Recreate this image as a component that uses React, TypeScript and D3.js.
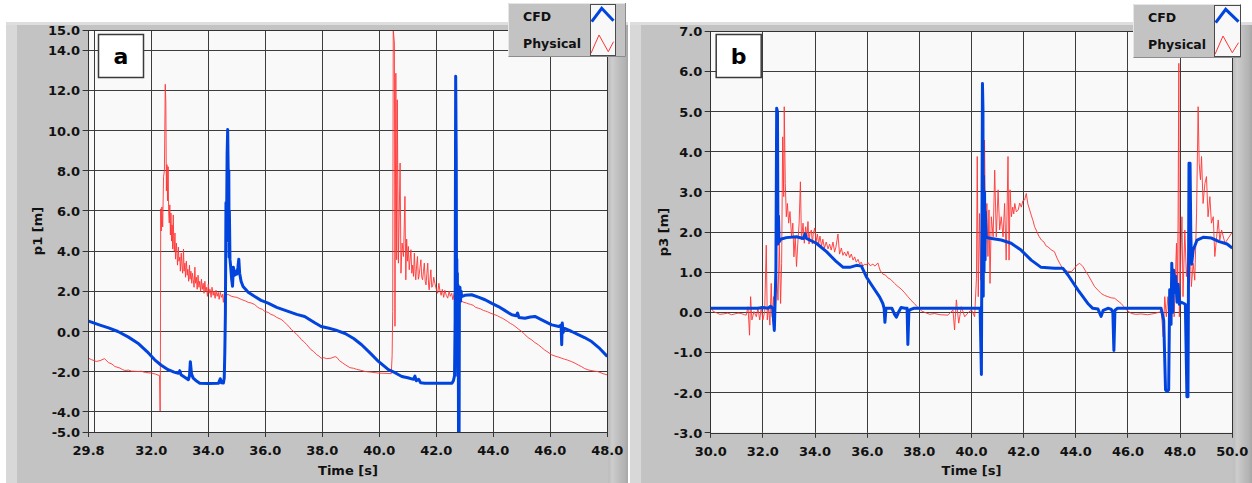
import React from 'react';
import * as d3 from 'd3';

type Pt = [number, number];

const SERIES_NAMES = ['CFD', 'Physical'];
const X_TITLE = 'Time [s]';

// ---- panel a: pressure head p1 ----
const xTicksA = [29.8, 32, 34, 36, 38, 40, 42, 44, 46, 48];
const xGridA = [30, 32, 34, 36, 38, 40, 42, 44, 46];
const yTicksA = [15, 14, 12, 10, 8, 6, 4, 2, 0, -2, -4, -5];
const yGridA = [14, 12, 10, 8, 6, 4, 2, 0, -2, -4];

const cfdA: Pt[] = [
  [29.8, 0.52], [30.2, 0.32], [30.5, 0.18], [30.83, 0.0], [31.2, -0.28], [31.53, -0.58], [31.85, -1.0],
  [32.12, -1.41], [32.35, -1.68], [32.59, -1.9], [32.8, -2.02], [32.95, -2.08], [33.0, -1.95], [33.04, -2.15],
  [33.2, -2.3], [33.3, -2.4], [33.34, -2.2], [33.37, -1.5], [33.41, -2.1], [33.47, -2.32], [33.6, -2.48],
  [33.7, -2.57], [34.0, -2.59], [34.36, -2.57], [34.42, -2.35], [34.46, -2.55], [34.53, -2.56], [34.56, -2.3],
  [34.58, -1.0], [34.6, 0.9], [34.62, 6.4], [34.64, 5.0], [34.66, 8.8], [34.68, 10.05], [34.7, 7.7],
  [34.71, 4.5], [34.72, 8.0], [34.73, 3.7], [34.74, 6.0], [34.76, 3.6], [34.78, 3.3], [34.82, 2.6],
  [34.85, 2.25], [34.88, 3.2], [34.92, 2.8], [34.96, 3.0], [35.0, 2.85], [35.04, 3.2], [35.07, 3.6],
  [35.1, 2.9], [35.15, 2.5], [35.22, 2.24], [35.4, 1.95], [35.63, 1.74], [35.85, 1.55], [36.1, 1.41],
  [36.4, 1.2], [36.8, 1.0], [37.1, 0.85], [37.38, 0.75], [37.55, 0.6], [37.75, 0.42], [37.96, 0.25],
  [38.2, 0.17], [38.45, 0.08], [38.8, -0.1], [39.1, -0.35], [39.38, -0.66], [39.7, -1.1], [39.97, -1.49],
  [40.32, -1.9], [40.55, -2.05], [40.79, -2.24], [41.0, -2.3], [41.2, -2.38], [41.25, -2.22], [41.3, -2.45],
  [41.38, -2.38], [41.45, -2.55], [41.6, -2.57], [42.0, -2.57], [42.55, -2.57], [42.6, -2.45], [42.64, -2.2],
  [42.66, 0.5], [42.68, 12.7], [42.7, 8.5], [42.71, 2.0], [42.72, 3.6], [42.73, -1.5], [42.74, 2.9],
  [42.75, -2.2], [42.76, 2.3], [42.77, 1.0], [42.78, -5.2], [42.8, -5.2], [42.81, 1.4], [42.83, 2.2],
  [42.85, 1.5], [42.87, 2.0], [42.89, 1.74], [43.0, 1.8], [43.24, 1.83], [43.5, 1.7], [43.71, 1.58],
  [43.95, 1.4], [44.18, 1.24], [44.4, 1.05], [44.65, 0.83], [44.8, 0.78], [44.85, 0.92], [44.9, 0.7],
  [45.11, 0.66], [45.3, 0.72], [45.46, 0.75], [45.7, 0.58], [46.05, 0.33], [46.3, 0.25], [46.38, 0.32],
  [46.4, -0.66], [46.42, 0.42], [46.45, -0.05], [46.5, 0.15], [46.75, 0.0], [46.98, -0.16], [47.2, -0.3],
  [47.45, -0.5], [47.7, -0.8], [48.0, -1.24],
];

const physA: Pt[] = [
  [29.8, -1.33], [29.9, -1.4], [30.07, -1.49], [30.2, -1.45], [30.36, -1.35], [30.5, -1.55], [30.62, -1.62],
  [30.72, -1.74], [30.9, -1.82], [31.0, -1.9], [31.07, -1.94], [31.2, -1.92], [31.3, -1.97], [31.53, -1.99],
  [31.65, -1.98], [31.8, -2.04], [32.0, -2.07], [32.15, -2.12], [32.29, -2.2], [32.31, -3.95], [32.32, -1.5],
  [32.33, 6.1], [32.35, 5.0], [32.37, 6.2], [32.4, 5.2], [32.43, 7.7], [32.46, 8.0], [32.49, 12.3],
  [32.51, 11.4], [32.53, 7.0], [32.55, 8.3], [32.57, 6.5], [32.59, 8.2], [32.61, 5.9], [32.63, 5.4],
  [32.65, 6.3], [32.67, 4.8], [32.69, 5.9], [32.71, 4.5], [32.73, 5.3], [32.75, 4.1], [32.77, 5.8],
  [32.79, 4.3], [32.81, 4.0], [32.83, 4.9], [32.85, 3.6], [32.88, 4.4], [32.9, 3.9], [32.92, 3.3],
  [32.95, 4.2], [32.97, 3.5], [33.0, 3.7], [33.02, 3.0], [33.05, 3.9], [33.08, 3.2], [33.1, 2.9],
  [33.13, 4.1], [33.15, 3.0], [33.18, 3.4], [33.2, 2.7], [33.23, 3.5], [33.26, 2.8], [33.28, 3.1],
  [33.31, 2.5], [33.34, 3.3], [33.36, 2.6], [33.39, 3.0], [33.42, 2.4], [33.44, 2.9], [33.47, 2.6],
  [33.5, 2.2], [33.53, 3.2], [33.55, 2.4], [33.58, 2.7], [33.61, 2.1], [33.64, 2.8], [33.67, 2.2],
  [33.7, 2.5], [33.73, 2.0], [33.76, 2.6], [33.79, 2.1], [33.82, 2.4], [33.85, 1.9], [33.88, 2.5],
  [33.91, 2.0], [33.94, 2.2], [33.97, 1.75], [34.0, 2.35], [34.03, 1.9], [34.06, 2.1], [34.1, 1.7],
  [34.13, 2.2], [34.17, 1.8], [34.2, 2.0], [34.24, 1.65], [34.27, 2.05], [34.31, 1.75], [34.35, 1.95],
  [34.38, 1.6], [34.42, 1.95], [34.46, 1.7], [34.5, 1.85], [34.53, 1.45], [34.56, 1.9], [34.6, 1.82],
  [34.7, 1.84], [34.8, 1.76], [34.9, 1.72], [35.0, 1.7], [35.17, 1.59], [35.3, 1.52], [35.4, 1.45],
  [35.5, 1.42], [35.63, 1.34], [35.72, 1.22], [35.8, 1.15], [35.9, 1.1], [35.98, 1.0], [36.1, 0.95],
  [36.2, 0.85], [36.3, 0.8], [36.4, 0.7], [36.56, 0.6], [36.65, 0.5], [36.75, 0.35], [36.83, 0.25],
  [36.91, 0.1], [37.0, 0.0], [37.1, -0.15], [37.18, -0.25], [37.26, -0.4], [37.35, -0.5], [37.45, -0.65],
  [37.6, -0.9], [37.7, -1.0], [37.8, -1.15], [37.88, -1.22], [37.96, -1.33], [38.05, -1.3], [38.15, -1.35],
  [38.3, -1.33], [38.45, -1.25], [38.52, -1.3], [38.6, -1.45], [38.7, -1.55], [38.8, -1.65], [38.97, -1.8],
  [39.1, -1.83], [39.2, -1.88], [39.35, -1.93], [39.5, -1.99], [39.7, -2.02], [39.97, -2.07], [40.2, -2.08],
  [40.42, -2.1], [40.45, -1.2], [40.47, 1.0], [40.49, 15.0], [40.53, 14.35], [40.55, 0.26], [40.58, 12.85],
  [40.61, 3.57], [40.63, 11.53], [40.67, 3.4], [40.73, 8.38], [40.76, 2.9], [40.8, 4.4], [40.85, 3.73],
  [40.9, 6.72], [40.93, 2.57], [40.96, 4.6], [40.99, 3.5], [41.02, 4.23], [41.05, 3.07], [41.08, 3.6],
  [41.11, 4.07], [41.14, 2.9], [41.17, 3.3], [41.2, 2.74], [41.23, 3.9], [41.26, 2.9], [41.28, 2.57],
  [41.31, 3.3], [41.34, 3.73], [41.37, 2.6], [41.4, 2.82], [41.43, 3.2], [41.46, 3.57], [41.49, 2.7],
  [41.52, 2.57], [41.55, 3.0], [41.58, 3.4], [41.61, 2.5], [41.64, 2.32], [41.67, 2.9], [41.7, 3.4],
  [41.73, 2.3], [41.75, 2.07], [41.78, 2.6], [41.81, 3.07], [41.84, 2.2], [41.87, 2.24], [41.91, 2.7],
  [41.95, 2.4], [42.0, 2.1], [42.05, 1.9], [42.09, 2.4], [42.13, 2.0], [42.17, 1.8], [42.21, 2.1],
  [42.26, 1.7], [42.3, 2.05], [42.35, 1.8], [42.4, 1.66], [42.45, 2.0], [42.49, 1.75], [42.54, 1.9],
  [42.58, 1.58], [42.63, 1.9], [42.68, 1.7], [42.73, 1.95], [42.77, 1.5], [42.83, 1.6], [42.89, 1.5],
  [42.97, 1.45], [43.05, 1.42], [43.12, 1.38], [43.2, 1.35], [43.3, 1.3], [43.38, 1.2], [43.47, 1.16],
  [43.56, 1.12], [43.65, 1.05], [43.72, 1.02], [43.8, 0.98], [43.92, 0.9], [44.06, 0.83], [44.15, 0.78],
  [44.25, 0.7], [44.33, 0.65], [44.41, 0.58], [44.5, 0.5], [44.6, 0.4], [44.68, 0.34], [44.76, 0.26],
  [44.9, 0.1], [45.0, 0.0], [45.11, -0.16], [45.22, -0.3], [45.35, -0.42], [45.46, -0.55], [45.58, -0.66],
  [45.7, -0.8], [45.8, -0.92], [45.92, -1.03], [46.05, -1.16], [46.2, -1.24], [46.3, -1.28], [46.4, -1.33],
  [46.5, -1.38], [46.6, -1.42], [46.75, -1.5], [46.87, -1.58], [47.0, -1.68], [47.1, -1.75], [47.2, -1.84],
  [47.33, -1.91], [47.5, -1.96], [47.68, -2.0], [47.85, -2.1], [48.0, -2.16],
];

// ---- panel b: pressure head p3 ----
const xTicksB = [30, 32, 34, 36, 38, 40, 42, 44, 46, 48, 50];
const xGridB = [32, 34, 36, 38, 40, 42, 44, 46, 48];
const yTicksB = [7, 6, 5, 4, 3, 2, 1, 0, -1, -2, -3];
const yGridB = [6, 5, 4, 3, 2, 1, 0, -1, -2];

const cfdB: Pt[] = [
  [30.0, 0.1], [31.0, 0.1], [31.8, 0.1], [32.0, 0.12], [32.2, 0.1], [32.3, 0.15], [32.38, 0.1],
  [32.41, -0.2], [32.44, -0.45], [32.47, 0.3], [32.5, 1.05], [32.53, 5.08], [32.56, 5.0], [32.58, 1.7],
  [32.6, 2.4], [32.62, 1.75], [32.68, 1.82], [32.9, 1.86], [33.29, 1.88], [33.55, 1.84], [33.62, 1.95],
  [33.67, 1.84], [34.05, 1.72], [34.44, 1.51], [34.82, 1.26], [35.08, 1.12], [35.33, 1.12], [35.59, 1.17],
  [35.78, 1.15], [35.97, 0.88], [36.22, 0.63], [36.48, 0.38], [36.6, 0.22], [36.65, 0.1], [36.68, -0.25],
  [36.72, 0.1], [36.95, 0.1], [37.05, -0.05], [37.12, -0.12], [37.2, 0.0], [37.3, 0.12], [37.45, 0.1],
  [37.53, 0.1], [37.56, -0.8], [37.6, 0.05], [37.7, 0.08], [37.8, 0.1], [38.5, 0.1], [39.5, 0.1],
  [40.33, 0.1], [40.38, -1.55], [40.4, 2.0], [40.42, 5.7], [40.44, 5.04], [40.45, 0.4], [40.46, 3.4],
  [40.48, 1.0], [40.5, 3.0], [40.52, 1.3], [40.53, 2.5], [40.56, 1.88], [40.65, 1.85], [41.14, 1.8],
  [41.52, 1.72], [41.9, 1.55], [42.29, 1.3], [42.67, 1.12], [43.18, 1.1], [43.5, 1.1], [43.7, 0.93],
  [44.08, 0.56], [44.46, 0.22], [44.65, 0.1], [44.85, 0.08], [44.97, -0.1], [45.05, 0.05], [45.23, 0.1],
  [45.35, 0.08], [45.42, 0.0], [45.46, -0.95], [45.5, 0.05], [45.6, 0.1], [46.5, 0.1], [47.27, 0.1],
  [47.37, -0.2], [47.44, -1.93], [47.5, -1.97], [47.56, -1.93], [47.6, 0.56], [47.65, -0.3], [47.68, 1.22],
  [47.72, 0.0], [47.75, 1.05], [47.8, 0.5], [47.83, 0.9], [47.88, 0.25], [47.92, 0.7], [47.97, 0.2],
  [48.05, 0.25], [48.2, 0.2], [48.26, -2.1], [48.3, -2.1], [48.34, 3.71], [48.38, 3.71], [48.41, 1.9],
  [48.44, 1.2], [48.5, 1.55], [48.65, 1.8], [48.9, 1.87], [49.2, 1.85], [49.5, 1.76], [49.8, 1.7],
  [50.0, 1.6],
];

const physB: Pt[] = [
  [30.0, 0.14], [30.1, 0.02], [30.22, -0.01], [30.35, -0.05], [30.48, -0.04], [30.66, -0.02], [30.8, -0.06],
  [30.92, -0.04], [31.05, -0.02], [31.17, -0.03], [31.3, -0.06], [31.36, -0.07], [31.43, 0.14], [31.49, -0.57],
  [31.53, 0.39], [31.58, -0.19], [31.66, 0.02], [31.75, -0.11], [31.81, 0.1], [31.88, -0.19], [31.94, 0.14],
  [32.0, -0.19], [32.07, 0.02], [32.13, 1.67], [32.17, -0.19], [32.22, 0.14], [32.27, -0.32], [32.32, 0.72],
  [32.36, -0.11], [32.41, 0.39], [32.47, -0.19], [32.52, 1.05], [32.58, 0.3], [32.63, 1.72], [32.68, 0.22],
  [32.72, 1.22], [32.76, 4.37], [32.8, 2.88], [32.82, 5.12], [32.86, 3.21], [32.9, 2.38], [32.94, 2.71],
  [32.99, 2.22], [33.04, 2.51], [33.1, 1.88], [33.15, 2.22], [33.19, 1.38], [33.24, 1.88], [33.29, 1.14],
  [33.34, 1.72], [33.39, 2.22], [33.44, 3.25], [33.48, 1.8], [33.54, 2.22], [33.59, 1.72], [33.64, 2.13],
  [33.69, 1.88], [33.73, 2.26], [33.77, 1.7], [33.8, 1.95], [33.86, 2.05], [33.9, 1.7], [33.93, 1.95],
  [33.99, 2.1], [34.04, 1.75], [34.09, 1.95], [34.14, 1.7], [34.19, 1.9], [34.25, 1.65], [34.3, 1.82],
  [34.36, 1.6], [34.43, 1.75], [34.5, 1.58], [34.56, 1.7], [34.62, 1.55], [34.69, 1.75], [34.75, 1.5],
  [34.8, 1.62], [34.88, 1.95], [34.94, 1.45], [35.01, 1.6], [35.07, 1.42], [35.13, 1.5], [35.2, 1.4],
  [35.26, 1.52], [35.33, 1.36], [35.39, 1.45], [35.46, 1.3], [35.52, 1.38], [35.58, 1.25], [35.65, 1.32],
  [35.71, 1.2], [35.77, 1.25], [35.84, 1.15], [35.9, 1.2], [35.97, 1.18], [36.03, 1.24], [36.12, 1.16],
  [36.22, 1.2], [36.3, 1.15], [36.41, 1.23], [36.46, 1.12], [36.51, 1.02], [36.56, 1.0], [36.6, 0.95],
  [36.7, 0.93], [36.79, 0.86], [36.9, 0.82], [37.05, 0.72], [37.15, 0.66], [37.3, 0.58], [37.42, 0.5],
  [37.56, 0.39], [37.68, 0.3], [37.81, 0.22], [37.9, 0.15], [38.01, 0.08], [38.1, 0.03], [38.2, 0.0],
  [38.4, -0.05], [38.58, -0.03], [38.8, -0.06], [39.1, -0.07], [39.29, 0.06], [39.35, -0.44], [39.42, 0.31],
  [39.51, -0.27], [39.61, 0.14], [39.74, -0.11], [39.87, -0.01], [40.0, 0.06], [40.12, -0.11], [40.19, 0.85],
  [40.22, 3.88], [40.26, 0.39], [40.31, 2.46], [40.35, 0.8], [40.4, 2.38], [40.44, 1.22], [40.5, 4.29],
  [40.54, 1.72], [40.59, 2.71], [40.63, 1.39], [40.67, 2.55], [40.71, 0.72], [40.76, 2.38], [40.83, 1.88],
  [40.89, 3.54], [40.95, 1.88], [41.02, 3.05], [41.08, 2.05], [41.14, 2.38], [41.21, 1.88], [41.27, 2.71],
  [41.33, 1.3], [41.4, 3.88], [41.44, 1.3], [41.48, 3.05], [41.53, 2.38], [41.58, 2.62], [41.62, 2.45],
  [41.66, 2.71], [41.72, 2.5], [41.79, 2.55], [41.85, 2.72], [41.91, 2.62], [41.97, 2.78], [42.04, 2.8],
  [42.1, 2.96], [42.16, 2.7], [42.23, 2.55], [42.3, 2.4], [42.36, 2.28], [42.42, 2.13], [42.5, 2.02],
  [42.58, 1.9], [42.68, 1.8], [42.78, 1.75], [42.85, 1.66], [42.93, 1.63], [43.05, 1.56], [43.18, 1.51],
  [43.28, 1.35], [43.38, 1.22], [43.47, 1.12], [43.57, 1.05], [43.7, 1.02], [43.83, 1.01], [43.95, 1.1],
  [44.05, 1.18], [44.15, 1.22], [44.27, 1.14], [44.37, 1.03], [44.47, 0.93], [44.6, 0.78], [44.72, 0.64],
  [44.85, 0.55], [44.97, 0.47], [45.1, 0.42], [45.23, 0.39], [45.36, 0.36], [45.49, 0.35], [45.62, 0.28],
  [45.74, 0.22], [45.84, 0.14], [45.94, 0.06], [46.13, -0.03], [46.3, -0.05], [46.51, -0.04], [46.75, -0.06],
  [47.02, -0.03], [47.28, 0.02], [47.35, -0.61], [47.41, 0.39], [47.47, -0.11], [47.53, 0.39], [47.6, -0.27],
  [47.69, 1.1], [47.77, -0.11], [47.86, 1.72], [47.89, 0.39], [47.92, 2.22], [47.95, 6.2], [47.97, -0.11],
  [48.02, 1.22], [48.07, 2.38], [48.11, 0.39], [48.18, 2.05], [48.24, 0.89], [48.3, 1.39], [48.37, 1.88],
  [48.43, 0.64], [48.5, 1.22], [48.56, 0.8], [48.63, 2.47], [48.69, 5.12], [48.73, 3.71], [48.78, 3.3],
  [48.82, 3.88], [48.88, 2.71], [48.95, 3.21], [49.01, 3.38], [49.07, 2.38], [49.14, 2.88], [49.2, 2.22],
  [49.27, 2.38], [49.33, 1.39], [49.4, 1.88], [49.46, 2.3], [49.52, 1.8], [49.59, 2.05], [49.72, 1.72],
  [49.84, 1.84], [49.97, 1.97], [50.0, 1.97],
];

const CFD_COLOR = '#0044dd';
const PHYS_COLOR = '#ff3535';
const PANEL_GRAY = '#c3c3c3';
const FONT = "'DejaVu Sans', Verdana, sans-serif";
const TOP = 22;
const H = 483;

interface PanelCfg {
  id: string;
  left: number;
  right: number;
  plot: { l: number; r: number; t: number; b: number };
  xDomain: [number, number];
  yDomain: [number, number];
  xTicks: number[];
  xGrid: number[];
  yTicks: number[];
  yGrid: number[];
  cfd: Pt[];
  phys: Pt[];
  tagText: string;
  tag: { x: number; y: number; w: number; h: number };
  yTitle: string;
  yTitleX: number;
  legend: { x: number; y: number; w: number; h: number; sx: number; sw: number };
}

function Legend({ lg }: { lg: PanelCfg['legend'] }) {
  const { x, y, w, h, sx, sw } = lg;
  return (
    <g>
      <rect x={x} y={y} width={w} height={h} fill={PANEL_GRAY} />
      <path d={`M${x + 0.5},${y + h} V${y + 0.5} H${x + w}`} stroke="#e6e6e6" fill="none" />
      <path d={`M${x + 0.5},${y + h - 0.5} H${x + w - 0.5} V${y}`} stroke="#8c8c8c" fill="none" />
      <rect x={sx + 0.5} y={y + 1.5} width={sw} height={h - 3} fill="#f8f8f8" stroke="#4a4a4a" strokeWidth={1} />
      <text x={x + 15} y={y + 18} fontFamily={FONT} fontWeight="bold" fontSize={12.5} fill="#111">
        {SERIES_NAMES[0]}
      </text>
      <text x={x + 15} y={y + 45} fontFamily={FONT} fontWeight="bold" fontSize={12.5} fill="#111">
        {SERIES_NAMES[1]}
      </text>
      <polyline
        points={`${sx + 1.7},${y + 18.7} ${sx + 11.7},${y + 5.3} ${sx + sw - 1.5},${y + 17.7}`}
        fill="none" stroke={CFD_COLOR} strokeWidth={3}
      />
      <polyline
        points={`${sx + 1},${y + 50.3} ${sx + 9},${y + 32} ${sx + 18.3},${y + 48.7} ${sx + sw - 1.5},${y + 38.7}`}
        fill="none" stroke={PHYS_COLOR} strokeWidth={1}
      />
    </g>
  );
}

function Panel({ cfg }: { cfg: PanelCfg }) {
  const { id, left, right, plot } = cfg;
  const x = d3.scaleLinear().domain(cfg.xDomain).range([plot.l, plot.r]);
  const y = d3.scaleLinear().domain(cfg.yDomain).range([plot.b, plot.t]);
  const line = d3.line<Pt>().x((d) => x(d[0])).y((d) => y(d[1]));
  const snap = (v: number) => Math.round(v - 0.5) + 0.5;
  const fmt = (v: number) => v.toFixed(1);
  const midX = (plot.l + plot.r) / 2;
  const midY = (plot.t + plot.b) / 2;

  return (
    <g>
      <defs>
        <clipPath id={`clip-${id}`}>
          <rect x={plot.l} y={plot.t} width={plot.r - plot.l} height={plot.b - plot.t} />
        </clipPath>
        <linearGradient id={`rail-${id}`} x1="0" x2="1" y1="0" y2="0">
          <stop offset="0" stopColor="#bcbcbc" />
          <stop offset="0.2" stopColor="#cdcdcd" />
          <stop offset="0.55" stopColor="#bdbdbd" />
          <stop offset="0.85" stopColor="#b2b2b2" />
          <stop offset="1" stopColor="#a6a6a6" />
        </linearGradient>
      </defs>

      {/* panel chrome */}
      <rect x={left} y={TOP} width={right - left} height={H - TOP} fill={PANEL_GRAY} />
      <rect x={left} y={TOP} width={11} height={H - TOP} fill="#d8d8d8" />
      <rect x={left} y={TOP} width={right - left} height={3} fill="#dedede" />
      <rect x={plot.r + 1} y={TOP + 3} width={right - plot.r - 1} height={H - TOP - 3} fill={`url(#rail-${id})`} />

      {/* plot area */}
      <rect x={plot.l} y={plot.t} width={plot.r - plot.l} height={plot.b - plot.t} fill="#f9f9f9" />
      {cfg.xGrid.map((v) => (
        <line key={`gx${v}`} x1={snap(x(v))} x2={snap(x(v))} y1={plot.t} y2={plot.b} stroke="#3c3c3c" strokeWidth={1} />
      ))}
      {cfg.yGrid.map((v) => (
        <line key={`gy${v}`} x1={plot.l} x2={plot.r} y1={snap(y(v))} y2={snap(y(v))} stroke="#3c3c3c" strokeWidth={1} />
      ))}

      <g clipPath={`url(#clip-${id})`}>
        <path d={line(cfg.phys) || ''} fill="none" stroke={PHYS_COLOR} strokeWidth={1} strokeOpacity={0.9} />
        <path d={line(cfg.cfd) || ''} fill="none" stroke={CFD_COLOR} strokeWidth={3} strokeLinejoin="round" />
      </g>

      <rect
        x={snap(plot.l)} y={snap(plot.t)} width={Math.round(plot.r - plot.l)} height={Math.round(plot.b - plot.t)}
        fill="none" stroke="#333" strokeWidth={1}
      />

      {/* y axis */}
      {cfg.yTicks.map((v) => (
        <g key={`ty${v}`}>
          <line x1={plot.l - 6} x2={plot.l} y1={snap(y(v))} y2={snap(y(v))} stroke="#333" />
          <text
            x={plot.l - 8.5} y={y(v) + 5} textAnchor="end"
            fontFamily={FONT} fontWeight="bold" fontSize={13} fill="#111"
          >
            {fmt(v)}
          </text>
        </g>
      ))}
      <text
        transform={`translate(${cfg.yTitleX},${midY}) rotate(-90)`} textAnchor="middle" dominantBaseline="central"
        fontFamily={FONT} fontWeight="bold" fontSize={13} fill="#111"
      >
        {cfg.yTitle}
      </text>

      {/* x axis */}
      {cfg.xTicks.map((v) => (
        <g key={`tx${v}`}>
          <line x1={snap(x(v))} x2={snap(x(v))} y1={plot.b} y2={plot.b + 5} stroke="#333" />
          <text
            x={x(v)} y={plot.b + 23} textAnchor="middle"
            fontFamily={FONT} fontWeight="bold" fontSize={13} fill="#111"
          >
            {fmt(v)}
          </text>
        </g>
      ))}
      <text x={midX} y={475} textAnchor="middle" fontFamily={FONT} fontWeight="bold" fontSize={13} fill="#111">
        {X_TITLE}
      </text>

      {/* panel tag */}
      <rect
        x={cfg.tag.x + 0.5} y={cfg.tag.y + 0.5} width={cfg.tag.w} height={cfg.tag.h}
        fill="#fff" stroke="#3a3a3a" strokeWidth={1.5}
      />
      <text
        x={cfg.tag.x + cfg.tag.w / 2 + 0.5} y={cfg.tag.y + cfg.tag.h / 2 + 1} textAnchor="middle"
        dominantBaseline="central" fontFamily={FONT} fontWeight="bold" fontSize={22} fill="#000"
      >
        {cfg.tagText}
      </text>

      <Legend lg={cfg.legend} />
    </g>
  );
}

const panels: PanelCfg[] = [
  {
    id: 'a',
    left: 6,
    right: 628,
    plot: { l: 88.6, r: 607.3, t: 30, b: 432 },
    xDomain: [29.8, 48],
    yDomain: [-5, 15],
    xTicks: xTicksA,
    xGrid: xGridA,
    yTicks: yTicksA,
    yGrid: yGridA,
    cfd: cfdA,
    phys: physA,
    tagText: 'a',
    tag: { x: 98, y: 34, w: 45, h: 43 },
    yTitle: 'p1 [m]',
    yTitleX: 37,
    legend: { x: 508, y: 3, w: 118, h: 54, sx: 590, sw: 25 },
  },
  {
    id: 'b',
    left: 630,
    right: 1252,
    plot: { l: 710.7, r: 1232.3, t: 31.2, b: 432.8 },
    xDomain: [30, 50],
    yDomain: [-3, 7],
    xTicks: xTicksB,
    xGrid: xGridB,
    yTicks: yTicksB,
    yGrid: yGridB,
    cfd: cfdB,
    phys: physB,
    tagText: 'b',
    tag: { x: 715.7, y: 34, w: 45, h: 43 },
    yTitle: 'p3 [m]',
    yTitleX: 663,
    legend: { x: 1133, y: 4, w: 108, h: 54, sx: 1214, sw: 26 },
  },
];

export default function App() {
  return (
    <svg
      width={1252}
      height={483}
      viewBox="0 0 1252 483"
      style={{ position: 'absolute', left: 0, top: 0, background: '#fff' }}
    >
      {panels.map((p) => (
        <Panel key={p.id} cfg={p} />
      ))}
    </svg>
  );
}
